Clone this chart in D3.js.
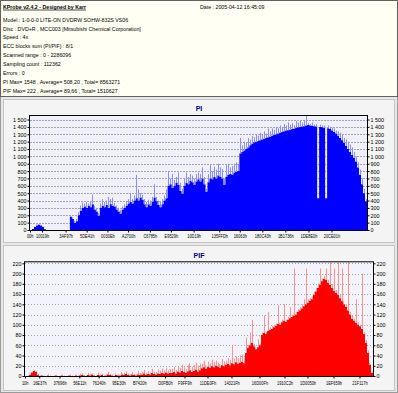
<!DOCTYPE html>
<html>
<head>
<meta charset="utf-8">
<script src="https://cdn.jsdelivr.net/npm/d3@7"></script>
<style>
  html, body { margin: 0; padding: 0; background: #e6e6e6; }
  svg { display: block; }
  text { font-family: "Liberation Sans", Arial, sans-serif; }
</style>
</head>
<body>
<svg id="chart" width="398" height="393"></svg>
<script>
// ---- header text ----
const infoTitle = 'KProbe v2.4.2 - Designed by Karr';
const infoDate = 'Date : 2005-04-12 16:45:09';
const infoLines = [
    'Model : 1-0-0-0 LITE-ON DVDRW SOHW-832S  VS06',
    'Disc : DVD+R , MCC003 [Mitsubishi Chemical Corporation]',
    'Speed : 4x',
    'ECC blocks sum (PI/PIF) : 8/1',
    'Scanned range : 0 - 2286096',
    'Sampling count : 112362',
    'Errors : 0',
    'PI Max= 1548 , Average= 508,20 , Total= 8563271',
    'PIF Max= 222 , Average= 89,66 , Total= 1510627'
];

const totalLba = 2286096;

// ---- PI ----
const piMax = 1548;
const piYTicks = [0, 100, 200, 300, 400, 500, 600, 700, 800, 900, 1000, 1100, 1200, 1300, 1400, 1500];
const piXLabels = ['00h', '10019h', '3AF97h', '5DE41h', '0030Eh', 'A2700h', 'C6785h', 'E9529h',
    '10D19h', '135FFDh', '16063h', '180C43h', '1B1736h', '1DE8E0h', '20CE01h'];
const piXTicks = [0, 82000, 241559, 384577, 525070, 665344, 812933, 955689,
    1110000, 1284000, 1423000, 1576000, 1732000, 1889000, 2045000];
const piBase = [
    0, 15, 40, 60, 70, 60, 40, 10,
    0, 0, 0, 0, 0, 0, 0, 0, 0, 0, 0, 0,
    180, 150, 100, 120, 200, 260, 300, 320, 300, 330, 310, 350, 280, 250, 190,
    300, 330, 310, 340, 300, 350, 330, 320, 280, 250, 220, 280, 300, 330, 360,
    380, 360, 400, 430, 400, 440, 410, 350, 310, 350, 330, 380, 440, 390, 340, 310, 350, 400, 430,
    600, 620, 570, 600, 640, 610, 530, 490, 600, 640, 620, 670, 650, 610, 660, 690,
    660, 700, 620, 520, 650, 700, 690, 720, 700, 740, 720, 700, 610, 720, 750, 760, 750, 780, 790, 800,
    1040, 1060, 1080, 1100, 1120, 1150, 1170, 1190, 1200, 1210, 1220, 1230, 1240, 1250, 1260,
    1265, 1280, 1290, 1300, 1310, 1320, 1330, 1340, 1350, 1355, 1360, 1370, 1375, 1385, 1395,
    1400, 1405, 1410, 1420, 1425, 1420, 1415, 1410, 1405,
    430,
    1400, 1395, 1390,
    430,
    1380, 1370, 1350, 1330, 1310, 1280, 1250, 1220, 1180, 1140, 1100, 1060, 1020, 980, 930, 850, 750, 620, 500, 390
];
const piPeak = [
    0, 15, 45, 75, 80, 70, 45, 12,
    0, 0, 0, 0, 0, 0, 0, 0, 0, 0, 0, 0,
    200, 170, 130, 150, 240, 330, 370, 360, 380, 360, 380, 480, 330, 300, 230,
    360, 420, 380, 400, 450, 420, 440, 370, 330, 300, 270, 320, 350, 380, 420,
    500, 420, 470, 750, 550, 500, 480, 420, 380, 410, 400, 450, 620, 450, 400, 380, 420, 470, 550,
    800, 700, 760, 680, 720, 780, 640, 560, 700, 780, 720, 760, 740, 700, 760, 780,
    760, 850, 720, 560, 760, 880, 800, 860, 820, 900, 850, 830, 700, 880, 900, 850, 870, 900, 920, 900,
    1250, 1150, 1200, 1180, 1250, 1230, 1280, 1260, 1300, 1280, 1320, 1300, 1340, 1310, 1380,
    1340, 1380, 1360, 1400, 1380, 1420, 1400, 1440, 1420, 1460, 1430, 1450, 1420, 1480, 1460,
    1480, 1460, 1490, 1548, 1450, 1440, 1460, 1430, 1440,
    430,
    1430, 1420, 1420,
    430,
    1420, 1400, 1390, 1380, 1350, 1340, 1320, 1300, 1250, 1230, 1200, 1160, 1120, 1060, 1000, 920, 820, 700, 560, 420
];

// ---- PIF ----
const pifMax = 222;
const pifYTicks = [0, 20, 40, 60, 80, 100, 120, 140, 160, 180, 200, 220];
const pifXLabels = ['10h', '16E37h', '37696h', '56E11h', '76240h', '95E30h', 'B7420h', 'D0FB0h',
    'F9FF9h', '11DE0Fh', '14321Fh', '16D00Fh', '1910C2h', '1D0050h', '1EF659h', '21F117h'];
const pifXTicks = [16, 93751, 226966, 356881, 483904, 613936, 750624, 919700,
    1047800, 1198900, 1356600, 1540500, 1704700, 1855800, 2026600, 2197400];
const pifBase = [
    0, 0, 2, 7, 10, 8, 2,
    0, 1, 0, 0, 1, 0, 0, 0, 1, 0, 0, 1, 0, 0, 0, 1, 0, 0, 1, 0,
    1, 2, 1, 0, 2, 1, 3, 1, 0, 2, 1, 2, 0, 1, 3, 2, 1, 0, 2, 1, 1, 3, 2, 4, 2, 1, 3, 2, 1, 3, 2,
    3, 5, 2, 4, 3, 6, 4, 3, 5, 4, 6, 5, 7, 5, 6,
    6, 8, 5, 9, 7, 10, 8, 6, 9, 11, 8, 10, 12, 9, 11,
    15, 17, 14, 18, 16, 19, 17, 20, 18, 16, 21, 19,
    22, 24, 21, 25, 23, 27, 24, 26, 28, 25,
    45, 55, 60, 65, 58,
    52, 56, 60,
    80, 84, 82, 88, 90, 92, 95,
    98, 102, 100, 105, 108, 106, 110, 113,
    115, 118, 120, 125, 128, 132, 136, 140, 143, 147,
    150, 158, 165, 172,
    178, 185, 190, 188,
    182, 178, 172, 166, 162,
    158, 152, 146, 140, 135,
    128, 120, 112,
    108, 104, 100, 97,
    92, 82, 65,
    45, 22, 6
];
const pifPeak = [
    0, 1, 4, 9, 12, 10, 4,
    1, 2, 1, 0, 3, 1, 0, 1, 2, 0, 1, 3, 1, 0, 2, 3, 1, 0, 3, 1,
    4, 5, 2, 1, 6, 3, 5, 2, 1, 7, 3, 4, 1, 3, 8, 4, 3, 1, 5, 3, 2, 8, 6, 9, 5, 3, 8, 4, 3, 10, 6,
    8, 12, 6, 10, 7, 14, 9, 8, 13, 10, 15, 12, 16, 11, 14,
    14, 18, 12, 20, 16, 22, 17, 14, 21, 25, 18, 22, 26, 20, 24,
    24, 30, 22, 28, 25, 32, 27, 30, 26, 24, 33, 28,
    30, 35, 32, 60, 34, 38, 35, 40, 42, 36,
    75, 60, 85, 110, 62,
    55, 72, 62,
    85, 118, 86, 125, 95, 98, 100,
    102, 138, 104, 110, 140, 110, 115, 135,
    120, 210, 125, 130, 135, 140, 150, 210, 150, 152,
    155, 165, 172, 180,
    210, 190, 195, 210,
    188, 222, 180, 210, 168,
    222, 158, 210, 146, 140,
    222, 125, 118,
    112, 150, 105, 100,
    200, 86, 70,
    50, 25, 8
];

const svg = d3.select('#chart');
const spaced = d3.formatLocale({ decimal: ',', thousands: ' ', grouping: [3], currency: ['', ''] }).format(',');

// squeeze a text horizontally, the reference font is narrower than ours
function squeeze(sel, k) {
    sel.each(function () {
        const w = this.getComputedTextLength();
        d3.select(this).attr('textLength', w * k).attr('lengthAdjust', 'spacingAndGlyphs');
    });
}

// ---- frames ----
svg.append('rect').attr('x', 0.5).attr('y', 0.5).attr('width', 397).attr('height', 392)
    .attr('fill', '#e8e8e8').attr('stroke', '#9a9a9a');
svg.append('rect').attr('x', 0.5).attr('y', 0.5).attr('width', 397).attr('height', 96)
    .attr('fill', '#fffff4').attr('stroke', '#606060');
svg.append('rect').attr('x', 3.5).attr('y', 99.5).attr('width', 391).attr('height', 143)
    .attr('fill', '#f4f4f4').attr('stroke', '#c4c4c4');
svg.append('rect').attr('x', 3.5).attr('y', 245.5).attr('width', 391).attr('height', 145)
    .attr('fill', '#f4f4f4').attr('stroke', '#c4c4c4');

// ---- header ----
const head = svg.append('g').attr('font-size', 6.2).attr('fill', '#000');
const titleText = head.append('text').attr('x', 3).attr('y', 8.5).attr('font-weight', 'bold').text(infoTitle);
head.append('text').attr('x', 200).attr('y', 8.5).text(infoDate);
head.selectAll('text.info').data(infoLines).join('text')
    .attr('class', 'info')
    .attr('x', 3)
    .attr('y', (d, i) => 21.7 + i * 8.85)
    .text(d => d);
squeeze(head.selectAll('text'), 0.85);
head.append('line')
    .attr('x1', 3).attr('x2', 3 + titleText.node().getComputedTextLength())
    .attr('y1', 10).attr('y2', 10)
    .attr('stroke', '#000').attr('stroke-width', 0.7);

// ---- charts ----
function drawChart(cfg) {
    const x = d3.scaleLinear().domain([0, totalLba]).range([cfg.left, cfg.right]);
    const y = d3.scaleLinear().domain([0, cfg.max]).range([cfg.bottom, cfg.top]);
    const g = svg.append('g');

    g.append('text')
        .attr('x', 199).attr('y', cfg.titleY)
        .attr('text-anchor', 'middle')
        .attr('font-size', 7).attr('font-weight', 'bold')
        .attr('fill', '#000080')
        .text(cfg.title);

    g.append('rect')
        .attr('x', cfg.left).attr('y', cfg.top)
        .attr('width', cfg.right - cfg.left).attr('height', cfg.bottom - cfg.top)
        .attr('fill', cfg.plotBg);

    g.selectAll('line.grid').data(cfg.yTicks.filter(d => d > 0)).join('line')
        .attr('class', 'grid')
        .attr('x1', cfg.left).attr('x2', cfg.right)
        .attr('y1', d => Math.round(y(d)) + 0.5).attr('y2', d => Math.round(y(d)) + 0.5)
        .attr('stroke', '#a4a4b0').attr('stroke-width', 1)
        .attr('stroke-dasharray', cfg.dash);

    const step = totalLba / cfg.base.length;
    const pts = cfg.base.map((v, i) => ({ lba: i * step, v: v }));
    pts.push({ lba: totalLba, v: cfg.base[cfg.base.length - 1] });

    const area = d3.area()
        .curve(d3.curveStepAfter)
        .x(d => x(d.lba))
        .y0(cfg.bottom)
        .y1(d => y(d.v));
    g.append('path').datum(pts).attr('d', area).attr('fill', cfg.fill);

    const spikes = cfg.peak.map((p, i) => ({ i: i, p: p, b: cfg.base[i] })).filter(d => d.p > d.b);
    g.selectAll('line.peak').data(spikes).join('line')
        .attr('class', 'peak')
        .attr('x1', d => Math.floor(x((d.i + 0.5) * step)) + 0.5)
        .attr('x2', d => Math.floor(x((d.i + 0.5) * step)) + 0.5)
        .attr('y1', d => y(d.b)).attr('y2', d => y(d.p))
        .attr('stroke', cfg.peakColor).attr('stroke-width', 1);

    g.append('rect')
        .attr('x', cfg.left - 0.5).attr('y', cfg.top - 0.5)
        .attr('width', cfg.right - cfg.left + 1).attr('height', cfg.bottom - cfg.top + 1)
        .attr('fill', 'none').attr('stroke', '#000');

    const left = g.append('g').attr('transform', `translate(${cfg.left - 0.5},0)`)
        .call(d3.axisLeft(y).tickValues(cfg.yTicks).tickFormat(spaced).tickSize(2).tickPadding(1));
    const right = g.append('g').attr('transform', `translate(${cfg.right + 0.5},0)`)
        .call(d3.axisRight(y).tickValues(cfg.yTicks).tickFormat(spaced).tickSize(2).tickPadding(1));
    const bottom = g.append('g').attr('transform', `translate(0,${cfg.bottom + 0.5})`)
        .call(d3.axisBottom(x).tickValues(cfg.xTicks)
            .tickFormat((d, i) => cfg.xLabels[i]).tickSize(2).tickPadding(cfg.xPad));

    [left, right, bottom].forEach(a => {
        a.attr('font-size', 6).attr('font-family', '"Liberation Sans", Arial, sans-serif');
        a.select('.domain').remove();
        a.selectAll('line').attr('stroke', '#000');
        a.selectAll('text').attr('fill', '#000');
    });
    bottom.attr('font-size', 5.5);
    squeeze(left.selectAll('text'), 0.9);
    squeeze(right.selectAll('text'), 0.9);
    squeeze(bottom.selectAll('text'), 0.72);
    // the first label sits a little left of its tick, as in the reference
    bottom.select('.tick text').attr('text-anchor', 'end').attr('dx', 3);
}

drawChart({
    title: 'PI', titleY: 111,
    left: 30, right: 367, top: 116, bottom: 230,
    max: piMax, base: piBase, peak: piPeak,
    yTicks: piYTicks, xTicks: piXTicks, xLabels: piXLabels, xPad: 2,
    fill: '#0000ff', peakColor: '#8c8cff', plotBg: '#f0f0fb', dash: '2,1'
});

drawChart({
    title: 'PIF', titleY: 258,
    left: 25, right: 373, top: 262.3, bottom: 376,
    max: pifMax, base: pifBase, peak: pifPeak,
    yTicks: pifYTicks, xTicks: pifXTicks, xLabels: pifXLabels, xPad: 3,
    fill: '#ff0000', peakColor: '#ff9090', plotBg: '#f3f3fc', dash: '1,2'
});
</script>
</body>
</html>
